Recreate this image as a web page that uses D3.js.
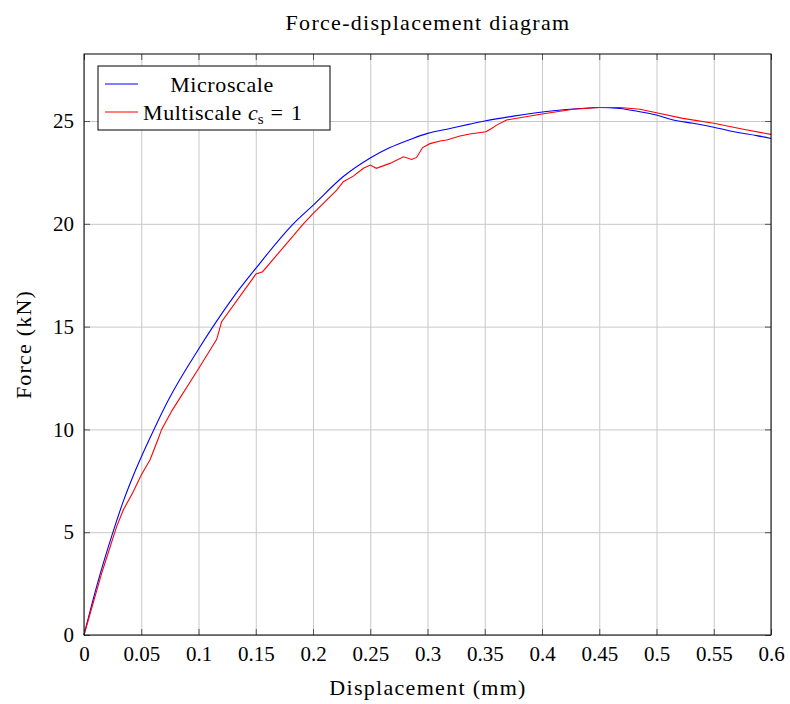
<!DOCTYPE html>
<html lang="en">
<head>
    <meta charset="utf-8">
    <script src="https://cdn.jsdelivr.net/npm/d3@7"></script>
    <style>
        body { margin: 0; background: #fff; }
        text { font-family: "Liberation Serif", "Times New Roman", serif; fill: #000; }
        .grid line { stroke: #c8c8c8; stroke-width: 1; }
        path.curve { fill: none; stroke-width: 1.1; }
    </style>
</head>
<body>
<script>

    // microscale curve
    let microX = [0, 0.011, 0.0253, 0.0343, 0.043, 0.05, 0.0611, 0.0737, 0.1, 0.1115, 0.13, 0.15, 0.1828,
        0.2, 0.2265, 0.25, 0.2672, 0.2847, 0.3, 0.3197, 0.337, 0.35, 0.375, 0.41, 0.4332, 0.45, 0.4681,
        0.4856, 0.5, 0.5146, 0.532, 0.55, 0.57, 0.5875, 0.6];
    let microY = [0, 2.35, 5, 6.5, 7.75, 8.66, 10, 11.43, 13.9, 14.9, 16.4, 17.83, 20,
        20.9, 22.3, 23.2, 23.71, 24.1, 24.4, 24.64, 24.85, 25.0, 25.24, 25.5, 25.61, 25.66, 25.61,
        25.45, 25.29, 25.05, 24.89, 24.7, 24.45, 24.29, 24.15];

    // multiscale curve
    let multiX = [0, 0.0154, 0.0183, 0.0285, 0.0343, 0.043, 0.05, 0.0576, 0.06, 0.065, 0.0678, 0.0771,
        0.1, 0.1159, 0.1202, 0.1502, 0.156, 0.1916, 0.2, 0.2207, 0.2265, 0.2352, 0.244, 0.25, 0.2553,
        0.2672, 0.279, 0.2862, 0.2905, 0.2957, 0.3022, 0.311, 0.3168, 0.3284, 0.337, 0.351, 0.356, 0.3604,
        0.369, 0.4, 0.4273, 0.45, 0.468, 0.4856, 0.5, 0.523, 0.55, 0.5759, 0.6];
    let multiY = [0, 3.0, 3.5, 5.27, 6.08, 6.97, 7.78, 8.51, 8.85, 9.57, 10.0, 10.94,
        12.95, 14.38, 15.24, 17.56, 17.67, 20, 20.5, 21.64, 22.05, 22.32, 22.7, 22.86, 22.7,
        22.94, 23.26, 23.13, 23.23, 23.71, 23.9, 24.03, 24.08, 24.27, 24.37, 24.48, 24.64, 24.8,
        25.05, 25.34, 25.57, 25.66, 25.66, 25.57, 25.4, 25.13, 24.89, 24.6, 24.35];

    let xTicks = [0, 0.05, 0.1, 0.15, 0.2, 0.25, 0.3, 0.35, 0.4, 0.45, 0.5, 0.55, 0.6];
    let yTicks = [0, 5, 10, 15, 20, 25];

    let margin = {left: 84, top: 54, right: 19, bottom: 69};
    let W = 790, H = 704;
    let w = W - margin.left - margin.right, h = H - margin.top - margin.bottom;

    let svg = d3.select("body").append("svg").attr("width", W).attr("height", H);
    let g = svg.append("g").attr("transform", "translate(" + margin.left + "," + margin.top + ")");

    let x = d3.scaleLinear().domain([0, 0.6]).range([0, w]);
    let y = d3.scaleLinear().domain([0, 28.26]).range([h, 0]);

    // grid
    g.append("g").attr("class", "grid")
        .attr("transform", "translate(0," + h + ")")
        .call(d3.axisBottom(x).tickValues(xTicks).tickSize(-h).tickFormat(""))
        .call(s => s.select(".domain").remove());
    g.append("g").attr("class", "grid")
        .call(d3.axisLeft(y).tickValues(yTicks).tickSize(-w).tickFormat(""))
        .call(s => s.select(".domain").remove());

    // curves
    let series = [
        {xs: microX, ys: microY, color: "#0000ff", curve: d3.curveMonotoneX},
        {xs: multiX, ys: multiY, color: "#ff0000", curve: d3.curveLinear}
    ];
    series.forEach(function (s) {
        let pts = s.xs.map((v, i) => [v, s.ys[i]]);
        g.append("path").attr("class", "curve")
            .attr("stroke", s.color)
            .attr("d", d3.line().curve(s.curve).x(d => x(d[0])).y(d => y(d[1]))(pts));
    });

    // inward ticks on all sides
    let tk = 6;
    let fmt = d => String(d);
    let axBottom = g.append("g").attr("transform", "translate(0," + h + ")")
        .call(d3.axisBottom(x).tickValues(xTicks).tickSizeInner(-tk).tickSizeOuter(0).tickPadding(11).tickFormat(fmt));
    let axTop = g.append("g")
        .call(d3.axisTop(x).tickValues(xTicks).tickSizeInner(-tk).tickSizeOuter(0).tickFormat(""));
    let axLeft = g.append("g")
        .call(d3.axisLeft(y).tickValues(yTicks).tickSizeInner(-tk).tickSizeOuter(0).tickPadding(10).tickFormat(fmt));
    let axRight = g.append("g").attr("transform", "translate(" + w + ",0)")
        .call(d3.axisRight(y).tickValues(yTicks).tickSizeInner(-tk).tickSizeOuter(0).tickFormat(""));
    [axBottom, axTop, axLeft, axRight].forEach(function (a) {
        a.attr("font-family", null).attr("font-size", null);
        a.selectAll(".tick line").attr("stroke", "#555");
        a.selectAll(".domain").remove();
        a.selectAll("text")
            .style("font-family", "'Liberation Serif', serif")
            .style("font-size", "21px");
    });

    g.append("rect").attr("width", w).attr("height", h)
        .attr("fill", "none").attr("stroke", "#000").attr("stroke-width", 1);

    // titles
    svg.append("text").attr("x", 428).attr("y", 30).attr("text-anchor", "middle")
        .style("font-size", "22px").style("letter-spacing", "1.3px").text("Force-displacement diagram");
    svg.append("text").attr("x", 428).attr("y", 695).attr("text-anchor", "middle")
        .style("font-size", "22px").style("letter-spacing", "1.3px").text("Displacement (mm)");
    svg.append("text").attr("transform", "translate(31," + (margin.top + h / 2) + ") rotate(-90)")
        .attr("text-anchor", "middle").style("font-size", "22px").style("letter-spacing", "1.2px")
        .text("Force (kN)");

    // legend
    let lg = g.append("g").attr("transform", "translate(14,12)");
    lg.append("rect").attr("width", 232).attr("height", 64)
        .attr("fill", "#fff").attr("stroke", "#000").attr("stroke-width", 1);
    let rows = [{color: "#0000ff", y: 18}, {color: "#ff0000", y: 46}];
    rows.forEach(function (r) {
        lg.append("line").attr("x1", 7).attr("x2", 40).attr("y1", r.y).attr("y2", r.y)
            .attr("stroke", r.color).attr("stroke-width", 1.1);
    });
    lg.append("text").attr("x", 124).attr("y", 26).attr("text-anchor", "middle")
        .style("font-size", "22px").style("letter-spacing", "0.6px").text("Microscale");
    let t2 = lg.append("text").attr("x", 45).attr("y", 54).style("font-size", "22px");
    t2.append("tspan").style("letter-spacing", "0.6px").text("Multiscale");
    t2.append("tspan").attr("dx", 6).style("font-style", "italic").text("c");
    t2.append("tspan").attr("dy", 4).style("font-size", "15px").text("s");
    t2.append("tspan").attr("dy", -4).attr("dx", 7).text("=");
    t2.append("tspan").attr("dx", 8).text("1");

</script>
</body>
</html>
